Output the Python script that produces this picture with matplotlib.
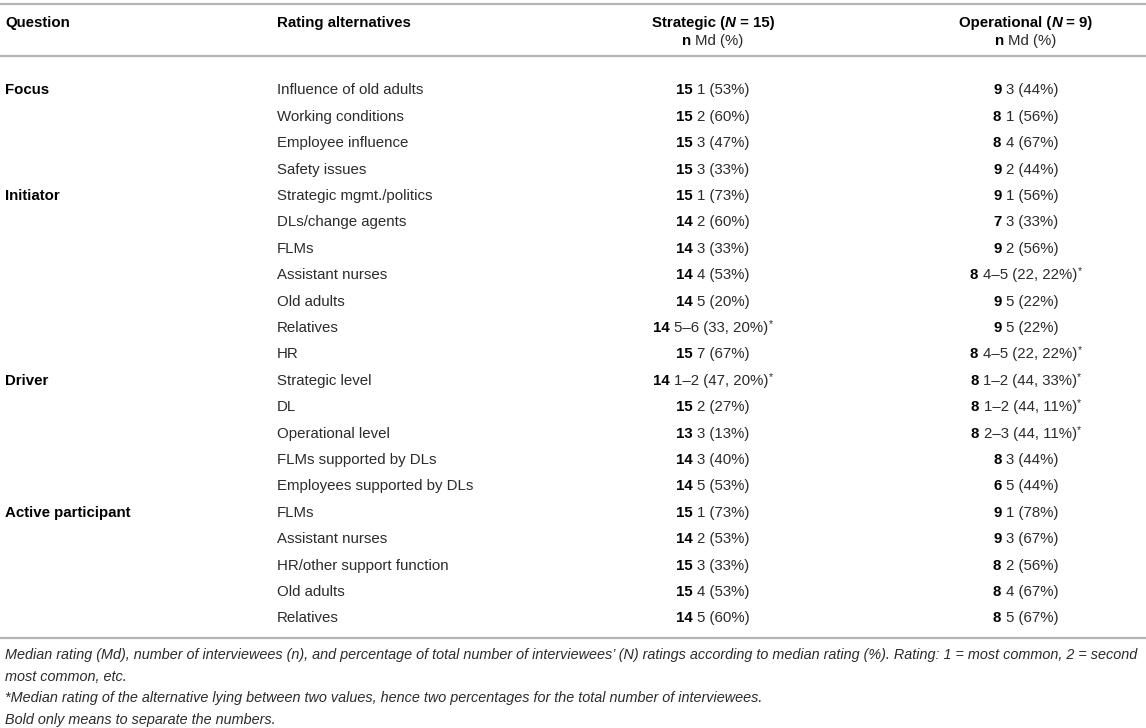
import matplotlib
matplotlib.use("Agg")
import matplotlib.pyplot as plt

plt.rcParams["font.family"] = ["Liberation Sans", "DejaVu Sans"]

# ---- table content ----
questions = ["Focus", "Initiator", "Driver", "Active participant"]
alternatives = [
    ["Influence of old adults", "Working conditions", "Employee influence", "Safety issues"],
    ["Strategic mgmt./politics", "DLs/change agents", "FLMs", "Assistant nurses",
     "Old adults", "Relatives", "HR"],
    ["Strategic level", "DL", "Operational level", "FLMs supported by DLs",
     "Employees supported by DLs"],
    ["FLMs", "Assistant nurses", "HR/other support function", "Old adults", "Relatives"],
]
# (n, Md (%), starred)
strategic = [
    ("15", "1 (53%)", False), ("15", "2 (60%)", False), ("15", "3 (47%)", False), ("15", "3 (33%)", False),
    ("15", "1 (73%)", False), ("14", "2 (60%)", False), ("14", "3 (33%)", False), ("14", "4 (53%)", False),
    ("14", "5 (20%)", False), ("14", "5–6 (33, 20%)", True), ("15", "7 (67%)", False),
    ("14", "1–2 (47, 20%)", True), ("15", "2 (27%)", False), ("13", "3 (13%)", False),
    ("14", "3 (40%)", False), ("14", "5 (53%)", False),
    ("15", "1 (73%)", False), ("14", "2 (53%)", False), ("15", "3 (33%)", False),
    ("15", "4 (53%)", False), ("14", "5 (60%)", False),
]
operational = [
    ("9", "3 (44%)", False), ("8", "1 (56%)", False), ("8", "4 (67%)", False), ("9", "2 (44%)", False),
    ("9", "1 (56%)", False), ("7", "3 (33%)", False), ("9", "2 (56%)", False), ("8", "4–5 (22, 22%)", True),
    ("9", "5 (22%)", False), ("9", "5 (22%)", False), ("8", "4–5 (22, 22%)", True),
    ("8", "1–2 (44, 33%)", True), ("8", "1–2 (44, 11%)", True), ("8", "2–3 (44, 11%)", True),
    ("8", "3 (44%)", False), ("6", "5 (44%)", False),
    ("9", "1 (78%)", False), ("9", "3 (67%)", False), ("8", "2 (56%)", False),
    ("8", "4 (67%)", False), ("8", "5 (67%)", False),
]
footnotes = [
    "Median rating (Md), number of interviewees (n), and percentage of total number of interviewees’ (N) "
    "ratings according to median rating (%). Rating: 1 = most common, 2 = second",
    "most common, etc.",
    "*Median rating of the alternative lying between two values, hence two percentages for the total number of interviewees.",
    "Bold only means to separate the numbers.",
]

W, H = 1146, 728
FS = 10.8
BODY = "#2b2b2b"
RULE = "#b4b4b4"

fig = plt.figure(figsize=(W / 100, H / 100), dpi=100)
ax = fig.add_axes([0, 0, 1, 1])
ax.set_xlim(0, W)
ax.set_ylim(H, 0)
ax.axis("off")
renderer = fig.canvas.get_renderer()


def width_of(txt):
    return txt.get_window_extent(renderer).width


def draw_runs(x, y, runs, ha="left"):
    # runs: (text, weight, style, size, raise_px, color)
    objs = []
    for s, weight, style, size, dy, color in runs:
        t = ax.text(0, y - dy, s, fontsize=size, fontweight=weight, fontstyle=style,
                    color=color, va="baseline", ha="left")
        objs.append(t)
    widths = [width_of(t) for t in objs]
    total = sum(widths)
    x0 = x - total / 2 if ha == "center" else x
    for t, w in zip(objs, widths):
        t.set_x(x0)
        x0 += w


def cell_runs(n, md, star):
    runs = [(n + " ", "bold", "normal", FS, 0, "black"), (md, "normal", "normal", FS, 0, BODY)]
    if star:
        runs.append(("*", "normal", "normal", 7.5, 5, BODY))
    return runs


# rules
for yy in (4, 56, 638):
    ax.plot([0, W], [yy, yy], color=RULE, lw=1.6, solid_capstyle="butt")

# header
COL_Q, COL_ALT, COL_S, COL_O = 5, 277, 713, 1026
BASE = 5.4
ax.text(COL_Q, 22 + BASE, "Question", fontsize=FS, fontweight="bold", va="baseline")
ax.text(COL_ALT, 22 + BASE, "Rating alternatives", fontsize=FS, fontweight="bold", va="baseline")
draw_runs(COL_S, 22 + BASE, [("Strategic (", "bold", "normal", FS, 0, "black"),
                             ("N", "bold", "italic", FS, 0, "black"),
                             (" = 15)", "bold", "normal", FS, 0, "black")], ha="center")
draw_runs(COL_O, 22 + BASE, [("Operational (", "bold", "normal", FS, 0, "black"),
                             ("N", "bold", "italic", FS, 0, "black"),
                             (" = 9)", "bold", "normal", FS, 0, "black")], ha="center")
for cx in (COL_S, COL_O):
    draw_runs(cx, 40 + BASE, [("n ", "bold", "normal", FS, 0, "black"),
                              ("Md (%)", "normal", "normal", FS, 0, BODY)], ha="center")

# body rows
row = 0
for q, alts in zip(questions, alternatives):
    for k, alt in enumerate(alts):
        y = 89 + 26.4 * row + BASE
        if k == 0:
            ax.text(COL_Q, y, q, fontsize=FS, fontweight="bold", va="baseline")
        ax.text(COL_ALT, y, alt, fontsize=FS, color=BODY, va="baseline")
        draw_runs(COL_S, y, cell_runs(*strategic[row]), ha="center")
        draw_runs(COL_O, y, cell_runs(*operational[row]), ha="center")
        row += 1

# footnotes, scaled so the first line spans the width
probe = ax.text(0, 0, footnotes[0], fontsize=10, fontstyle="italic")
fn_size = 10 * (W - 9) / width_of(probe)
probe.remove()
for i, line in enumerate(footnotes):
    ax.text(5, 655 + 21.5 * i + 4.3, line, fontsize=fn_size, fontstyle="italic",
            color=BODY, va="baseline")

fig.savefig("out.png", dpi=100)
